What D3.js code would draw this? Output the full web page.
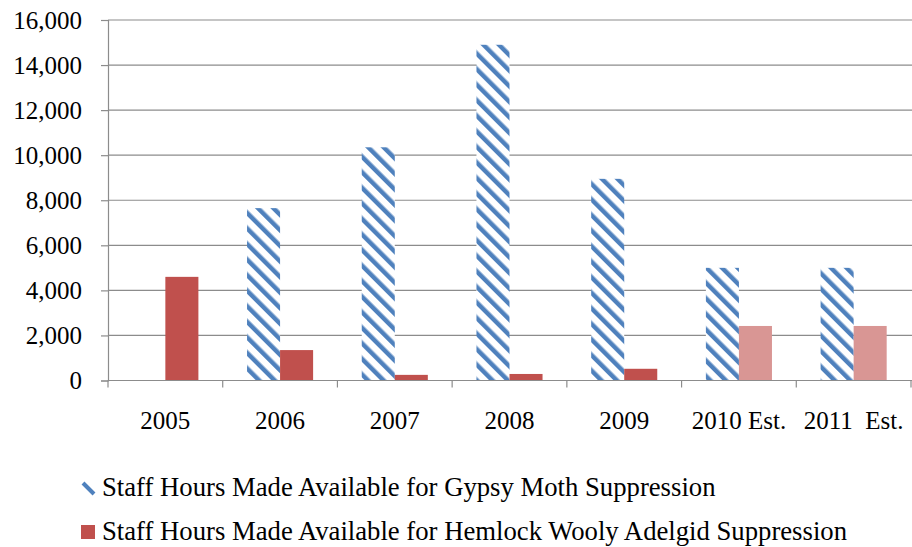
<!DOCTYPE html>
<html>
<head>
<meta charset="utf-8">
<script src="https://cdn.jsdelivr.net/npm/d3@7"></script>
<style>
  body { margin: 0; background: #fff; }
  svg { display: block; }
  svg text { font-family: "Liberation Serif", "Times New Roman", serif; fill: #000; }
</style>
</head>
<body>
<svg id="chart"></svg>
<script>
// chart data
var years = ["2005", "2006", "2007", "2008", "2009", "2010 Est.", "2011  Est."]
var gypsyMoth = [0, 7650, 10350, 14900, 8950, 5000, 5000]
var hemlock = [4600, 1350, 250, 290, 520, 2420, 2420]
var estimated = [false, false, false, false, false, true, true]
var yTicks = [0, 2000, 4000, 6000, 8000, 10000, 12000, 14000, 16000]
var seriesNames = ["Staff Hours Made Available for Gypsy Moth Suppression",
                   "Staff Hours Made Available for Hemlock Wooly Adelgid Suppression"]

var screen = {width: 912, height: 547}
var plot = {left: 108, right: 911, top: 20, bottom: 380.5}
var serif = '"Liberation Serif", "Times New Roman", serif'

var svg = d3.select("#chart")
    .attr("width", screen.width)
    .attr("height", screen.height)

// stripe pattern for the gypsy moth bars (wide downward diagonal)
var period = 11
svg.append("defs")
    .append("pattern")
    .attr("id", "stripes")
    .attr("patternUnits", "userSpaceOnUse")
    .attr("width", period)
    .attr("height", period)
    .attr("patternTransform", "rotate(-45)")
    .call(function(p) {
        p.append("rect").attr("width", period).attr("height", period).attr("fill", "#fff")
        p.append("rect").attr("width", 4.5).attr("height", period).attr("fill", "#4f81bd")
    })

var xScale = d3.scaleBand()
    .domain(years)
    .range([plot.left, plot.right])
    .padding(0)

var yScale = d3.scaleLinear()
    .domain([0, 16000])
    .range([plot.bottom, plot.top])

var barW = xScale.bandwidth() * 0.288

// gridlines
svg.append("g")
    .selectAll("line")
    .data(yTicks.slice(1))
    .enter()
    .append("line")
    .attr("x1", plot.left)
    .attr("x2", plot.right + 1)
    .attr("y1", function(d) { return yScale(d) })
    .attr("y2", function(d) { return yScale(d) })
    .attr("stroke", "#8c8c8c")
    .attr("stroke-width", 1.2)

// y axis
var yAxis = d3.axisLeft(yScale)
    .tickValues(yTicks)
    .tickFormat(d3.format(","))
    .tickSize(7)
    .tickPadding(19)

svg.append("g")
    .attr("transform", "translate(" + plot.left + ",0)")
    .call(yAxis)
    .attr("font-family", null)
    .call(function(g) {
        g.select(".domain").attr("stroke", "#8c8c8c").attr("stroke-width", 1.2)
        g.selectAll(".tick line").attr("stroke", "#8c8c8c").attr("stroke-width", 1.2)
        g.selectAll(".tick text")
            .style("font-family", serif)
            .style("font-size", "25px")
            .attr("fill", "#000")
    })

// bars
svg.append("g")
    .selectAll("rect")
    .data(years)
    .enter()
    .append("rect")
    .attr("x", function(d) { return xScale(d) + xScale.bandwidth() / 2 - barW })
    .attr("y", function(d, i) { return yScale(gypsyMoth[i]) })
    .attr("width", barW)
    .attr("height", function(d, i) { return yScale(0) - yScale(gypsyMoth[i]) })
    .attr("fill", "url(#stripes)")

svg.append("g")
    .selectAll("rect")
    .data(years)
    .enter()
    .append("rect")
    .attr("x", function(d) { return xScale(d) + xScale.bandwidth() / 2 })
    .attr("y", function(d, i) { return yScale(hemlock[i]) })
    .attr("width", barW)
    .attr("height", function(d, i) { return yScale(0) - yScale(hemlock[i]) })
    .attr("fill", function(d, i) { return estimated[i] ? "#d99694" : "#c0504d" })

// x axis: baseline, ticks between categories, labels centred
var xg = svg.append("g")
xg.append("line")
    .attr("x1", plot.left)
    .attr("x2", plot.right + 1)
    .attr("y1", yScale(0))
    .attr("y2", yScale(0))
    .attr("stroke", "#8c8c8c")
    .attr("stroke-width", 1.2)
xg.selectAll(".xtick")
    .data(years.concat(["end"]))
    .enter()
    .append("line")
    .attr("class", "xtick")
    .attr("x1", function(d, i) { return plot.left + i * xScale.bandwidth() })
    .attr("x2", function(d, i) { return plot.left + i * xScale.bandwidth() })
    .attr("y1", yScale(0))
    .attr("y2", yScale(0) + 7)
    .attr("stroke", "#8c8c8c")
    .attr("stroke-width", 1.2)
xg.selectAll("text")
    .data(years)
    .enter()
    .append("text")
    .attr("x", function(d) { return xScale(d) + xScale.bandwidth() / 2 })
    .attr("y", 429)
    .attr("text-anchor", "middle")
    .style("font-family", serif)
    .style("font-size", "25px")
    .style("white-space", "pre")
    .text(function(d) { return d })

// legend
var legend = svg.append("g")
legend.append("line")
    .attr("x1", 83).attr("y1", 483)
    .attr("x2", 94).attr("y2", 494)
    .attr("stroke", "#4f81bd")
    .attr("stroke-width", 4)
legend.append("rect")
    .attr("x", 81).attr("y", 525)
    .attr("width", 14).attr("height", 14)
    .attr("fill", "#c0504d")
legend.selectAll("text")
    .data(seriesNames)
    .enter()
    .append("text")
    .attr("x", 102)
    .attr("y", function(d, i) { return 496 + i * 44 })
    .style("font-family", serif)
    .style("font-size", "26.7px")
    .text(function(d) { return d })
</script>
</body>
</html>
